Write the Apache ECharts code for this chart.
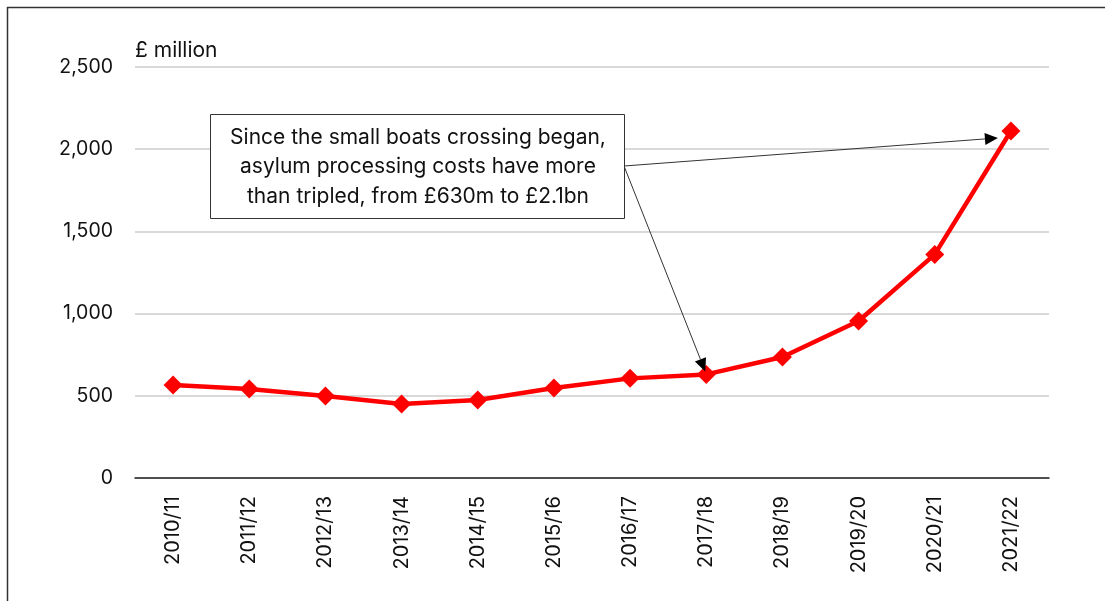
<!DOCTYPE html>
<html><head><meta charset="utf-8">
<script src="https://cdn.jsdelivr.net/npm/echarts@6/dist/echarts.min.js"></script>
<style>html,body{margin:0;padding:0;background:#fff}#c{width:1105px;height:601px}</style>
</head><body><div id="c"></div>
<script>
const categories = ['2010/11','2011/12','2012/13','2013/14','2014/15','2015/16','2016/17','2017/18','2018/19','2019/20','2020/21','2021/22'];
const costs = [566, 541, 499, 450, 474, 547, 606, 630, 736, 955, 1360, 2111];
const yTicks = [0, 500, 1000, 1500, 2000, 2500];
const unitLabel = '£ million';
const noteLines = ['Since the small boats crossing began,', 'asylum processing costs have more', 'than tripled, from £630m to £2.1bn'];

const FONT = 'Inter, "Noto Sans", sans-serif';
const chart = echarts.init(document.getElementById('c'));
chart.setOption({
  animation: false,
  grid: {left: 135, right: 56, top: 67, bottom: 123},
  xAxis: {
    type: 'category', data: categories, boundaryGap: true,
    axisLine: {lineStyle: {color: '#222', width: 1.5}},
    axisTick: {show: false},
    axisLabel: {rotate: 90, fontFamily: FONT, fontSize: 20, color: '#111', margin: 18}
  },
  yAxis: {
    type: 'value', min: yTicks[0], max: yTicks[yTicks.length-1], interval: 500,
    axisLine: {show: false}, axisTick: {show: false},
    splitLine: {lineStyle: {color: '#d9d9d9', width: 2}},
    axisLabel: {fontFamily: FONT, fontSize: 19.5, color: '#111', margin: 22,
      formatter: v => v.toLocaleString('en-GB')}
  },
  series: [{
    type: 'line', data: costs,
    lineStyle: {color: '#ff0000', width: 4.5},
    itemStyle: {color: '#ff0000'},
    symbol: 'diamond', symbolSize: 19, showSymbol: true
  }]
});

function arrow(x1, y1, x2, y2) {
  const ang = Math.atan2(y2 - y1, x2 - x1);
  const L = 13, W = 6;
  const bx = x2 - L*Math.cos(ang), by = y2 - L*Math.sin(ang);
  const px = -Math.sin(ang)*W, py = Math.cos(ang)*W;
  return [
    {type: 'line', shape: {x1, y1, x2: bx, y2: by}, style: {stroke: '#333', lineWidth: 1}, z: 50},
    {type: 'polygon', shape: {points: [[x2, y2], [bx+px, by+py], [bx-px, by-py]]}, style: {fill: '#000'}, z: 50}
  ];
}
const pEnd = chart.convertToPixel({gridIndex: 0}, [categories[11], costs[11]]);
const pMid = chart.convertToPixel({gridIndex: 0}, [categories[7], costs[7]]);
const sx = 624, sy = 166;
const graphics = [
  {type: 'line', shape: {x1: 7, y1: 7.5, x2: 1105, y2: 7.5}, style: {stroke: '#333', lineWidth: 1.5}},
  {type: 'line', shape: {x1: 7.5, y1: 7, x2: 7.5, y2: 601}, style: {stroke: '#333', lineWidth: 1.5}},
  {type: 'text', left: 135, top: 40, style: {text: unitLabel, font: '21px ' + FONT, fill: '#111'}},
  {type: 'rect', shape: {x: 210.5, y: 114.5, width: 414, height: 104}, style: {fill: '#fff', stroke: '#333', lineWidth: 1}, z: 60},
  {type: 'text', x: 418, y: 167, z: 61, style: {text: noteLines.join('\n'), font: '21px ' + FONT, fill: '#111', align: 'center', verticalAlign: 'middle', lineHeight: 29.5}}
].concat(arrow(sx, sy, pEnd[0] - 13, pEnd[1] + 7), arrow(sx, sy, pMid[0] - 1, pMid[1] - 3));
chart.setOption({graphic: graphics});
</script></body></html>
